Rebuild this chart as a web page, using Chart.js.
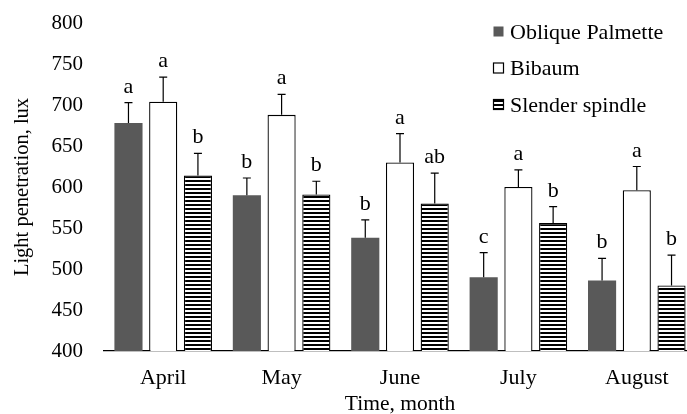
<!DOCTYPE html>
<html>
<head>
<meta charset="utf-8">
<script src="https://cdn.jsdelivr.net/npm/chart.js@4.4.1/dist/chart.umd.min.js"></script>
<style>
  html, body { margin: 0; padding: 0; background: #fff; overflow: hidden; }
  #wrap { position: relative; width: 697px; height: 414px; }
</style>
</head>
<body>
<div id="wrap"><canvas id="c"></canvas></div>
<script>
const categories = ['April', 'May', 'June', 'July', 'August'];
const seriesNames = ['Oblique Palmette', 'Bibaum', 'Slender spindle'];
const obliqueValues = [678, 590, 538, 490, 486];
const obliqueErrors = [25, 21, 22, 30, 27];
const obliqueLetters = ['a', 'b', 'b', 'c', 'b'];
const bibaumValues = [704, 688, 630, 600, 596];
const bibaumErrors = [30, 25, 35, 21, 29];
const bibaumLetters = ['a', 'a', 'a', 'a', 'a'];
const spindleValues = [614, 591, 580, 556, 480];
const spindleErrors = [27, 16, 37, 20, 37];
const spindleLetters = ['b', 'b', 'ab', 'b', 'b'];
const yTicks = [400, 450, 500, 550, 600, 650, 700, 750, 800];

const FONT = "'Liberation Serif', 'Times New Roman', serif";

function stripePattern() {
  const p = document.createElement('canvas');
  p.width = 4; p.height = 4;
  const g = p.getContext('2d');
  g.fillStyle = '#ffffff'; g.fillRect(0, 0, 4, 4);
  g.fillStyle = '#000000'; g.fillRect(0, 0, 4, 2);
  return document.getElementById('c').getContext('2d').createPattern(p, 'repeat');
}
const stripes = stripePattern();

const errorPlugin = {
  id: 'errorBars',
  afterDatasetsDraw(chart) {
    const ctx = chart.ctx;
    const y = chart.scales.y;
    ctx.save();
    chart.data.datasets.forEach((ds, di) => {
      const meta = chart.getDatasetMeta(di);
      meta.data.forEach((bar, i) => {
        const top = y.getPixelForValue(ds.data[i] + ds.errors[i]);
        ctx.strokeStyle = '#000';
        ctx.lineWidth = 1.2;
        ctx.beginPath();
        ctx.moveTo(bar.x, bar.y);
        ctx.lineTo(bar.x, top);
        ctx.moveTo(bar.x - 4, top);
        ctx.lineTo(bar.x + 4, top);
        ctx.stroke();
        ctx.fillStyle = '#000';
        ctx.font = '22px ' + FONT;
        ctx.textAlign = 'center';
        ctx.textBaseline = 'alphabetic';
        ctx.fillText(ds.letters[i], bar.x, top - 10);
      });
    });
    ctx.restore();
  }
};

const legendPlugin = {
  id: 'sideLegend',
  afterDraw(chart) {
    const ctx = chart.ctx;
    ctx.save();
    const rows = [32, 68.5, 105];
    chart.data.datasets.forEach((ds, i) => {
      const cy = rows[i];
      ctx.fillStyle = ds.backgroundColor;
      ctx.fillRect(493.5, cy - 5.5, 10, 10);
      if (ds.borderWidth) {
        ctx.strokeStyle = '#000';
        ctx.lineWidth = 1.2;
        ctx.strokeRect(493.5, cy - 5.5, 10, 10);
      }
      ctx.fillStyle = '#000';
      ctx.font = '22px ' + FONT;
      ctx.textAlign = 'left';
      ctx.textBaseline = 'middle';
      ctx.fillText(ds.label, 510, cy + 1);
    });
    ctx.restore();
  }
};

new Chart(document.getElementById('c'), {
  type: 'bar',
  data: {
    labels: categories,
    datasets: [
      { label: seriesNames[0], data: obliqueValues, errors: obliqueErrors, letters: obliqueLetters,
        backgroundColor: '#595959', borderWidth: 0 },
      { label: seriesNames[1], data: bibaumValues, errors: bibaumErrors, letters: bibaumLetters,
        backgroundColor: '#ffffff', borderColor: '#000000', borderWidth: 1.3 },
      { label: seriesNames[2], data: spindleValues, errors: spindleErrors, letters: spindleLetters,
        backgroundColor: stripes, borderColor: '#000000', borderWidth: 1.3 }
    ]
  },
  options: {
    responsive: true,
    maintainAspectRatio: false,
    animation: false,
    events: [],
    layout: { padding: { top: 23, right: 1, bottom: 0, left: 0 } },
    datasets: { bar: { categoryPercentage: 0.88, barPercentage: 0.81 } },
    plugins: { legend: { display: false }, tooltip: { enabled: false } },
    scales: {
      x: {
        grid: { display: false, drawTicks: false },
        border: { display: true, color: '#000', width: 1.2 },
        ticks: { color: '#000', font: { family: FONT, size: 22 }, padding: 14 },
        title: { display: true, text: 'Time, month', color: '#000',
                 font: { family: FONT, size: 21.5, lineHeight: 0.9 }, padding: { top: 0, bottom: 0 } },
        afterFit(s) { s.height = 63; s.paddingLeft = 0; s.paddingRight = 0; }
      },
      y: {
        min: 400, max: 800,
        grid: { display: false, drawTicks: false },
        border: { display: false },
        afterBuildTicks(s) { s.ticks = yTicks.map(v => ({ value: v })); },
        ticks: { color: '#000', font: { family: FONT, size: 21 }, padding: 21 },
        title: { display: true, text: 'Light penetration, lux', color: '#000',
                 font: { family: FONT, size: 20.5, lineHeight: 1.2 }, padding: { top: 10, bottom: 0 } },
        afterFit(s) { s.width = 104; s.paddingTop = 0; s.paddingBottom = 0; }
      }
    }
  },
  plugins: [errorPlugin, legendPlugin]
});
</script>
</body>
</html>
